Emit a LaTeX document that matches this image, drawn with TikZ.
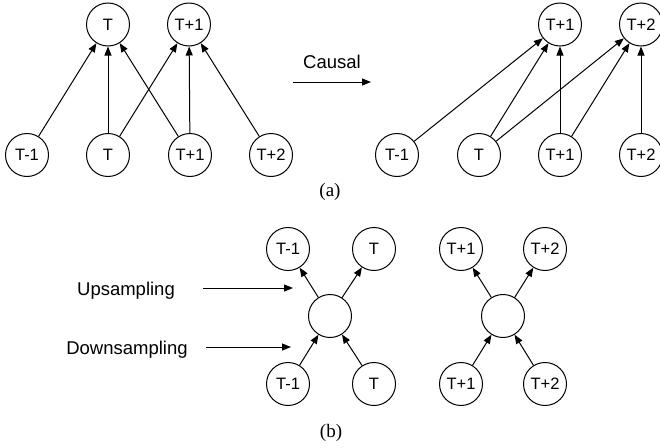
\documentclass[tikz,border=0pt]{standalone}
\usepackage{fontspec}
\setmainfont{Liberation Serif}
\setsansfont{Liberation Sans}
\usetikzlibrary{arrows.meta}

\begin{document}
\begin{tikzpicture}[x=1pt, y=-1pt,
  every node/.style={font=\sffamily\fontsize{16.5}{18}\selectfont},
  tnode/.style={circle, draw, line width=1pt, minimum size=43pt, inner sep=0pt},
  arr/.style={-{Triangle[length=9pt,width=7pt]}, line width=1pt},
  lbl/.style={font=\sffamily\fontsize{18.5}{20}\selectfont},
  captxt/.style={font=\rmfamily\fontsize{19}{21}\selectfont}
]
  \useasboundingbox (0,0) rectangle (660,447);

  % (a) full attention
  \node[tnode] (lt0) at (108,24.5) {T};
  \node[tnode] (lt1) at (189,24.5) {T+1};
  \node[tnode] (lb0) at (27,155)   {T-1};
  \node[tnode] (lb1) at (108,155)  {T};
  \node[tnode] (lb2) at (190,155)  {T+1};
  \node[tnode] (lb3) at (271,155)  {T+2};

  \draw[arr] (lb0) -- (lt0);
  \draw[arr] (lb1) -- (lt0);
  \draw[arr] (lb2) -- (lt0);
  \draw[arr] (lb1) -- (lt1);
  \draw[arr] (lb2) -- (lt1);
  \draw[arr] (lb3) -- (lt1);

  % causal arrow
  \coordinate (cs) at (293,82);
  \coordinate (ce) at (371,82);
  \draw[arr] (cs) -- node[lbl, above=9pt] {Causal} (ce);

  % (a) causal attention
  \node[tnode] (rt1) at (560,24.5) {T+1};
  \node[tnode] (rt2) at (641,24.5) {T+2};
  \node[tnode] (rb0) at (397,155)  {T-1};
  \node[tnode] (rb1) at (479,155)  {T};
  \node[tnode] (rb2) at (560,155)  {T+1};
  \node[tnode] (rb3) at (641,155)  {T+2};

  \draw[arr] (rb0) -- (rt1);
  \draw[arr] (rb1) -- (rt1);
  \draw[arr] (rb2) -- (rt1);
  \draw[arr] (rb1) -- (rt2);
  \draw[arr] (rb2) -- (rt2);
  \draw[arr] (rb3) -- (rt2);

  \node[captxt] (capa) at (330,192) {(a)};

  % (b) labels
  \node[lbl] (up)   at (126,291) {Upsampling};
  \node[lbl] (down) at (127,350) {Downsampling};
  \coordinate (us) at (203,288);
  \coordinate (ue) at (293,288);
  \coordinate (ds) at (206,347);
  \coordinate (de) at (291,347);
  \draw[arr] (us) -- (ue);
  \draw[arr] (ds) -- (de);

  % (b) left group
  \node[tnode] (ut0) at (288,249) {T-1};
  \node[tnode] (ut1) at (374,249) {T};
  \node[tnode] (uc)  at (330,316) {};
  \node[tnode] (ub0) at (288,384) {T-1};
  \node[tnode] (ub1) at (374,384) {T};

  \draw[arr] (uc) -- (ut0);
  \draw[arr] (uc) -- (ut1);
  \draw[arr] (ub0) -- (uc);
  \draw[arr] (ub1) -- (uc);

  % (b) right group
  \node[tnode] (vt0) at (461,249) {T+1};
  \node[tnode] (vt1) at (545,249) {T+2};
  \node[tnode] (vc)  at (503,316) {};
  \node[tnode] (vb0) at (461,384) {T+1};
  \node[tnode] (vb1) at (545,384) {T+2};

  \draw[arr] (vc) -- (vt0);
  \draw[arr] (vc) -- (vt1);
  \draw[arr] (vb0) -- (vc);
  \draw[arr] (vb1) -- (vc);

  \node[captxt] (capb) at (331,433) {(b)};
\end{tikzpicture}
\end{document}
